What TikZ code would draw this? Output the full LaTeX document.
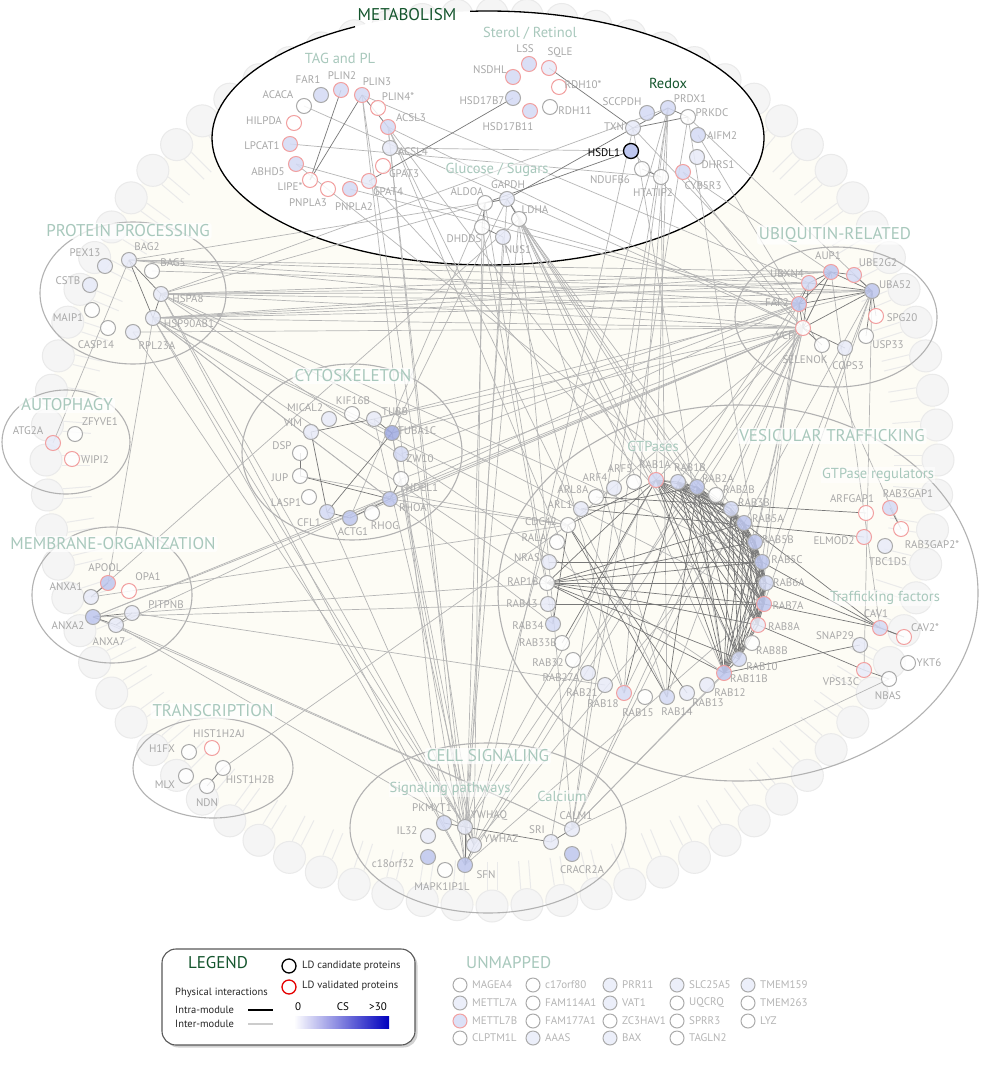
\documentclass[tikz,border=0pt]{standalone}
\usepackage{fontspec}
\setmainfont{PT Sans}
\usetikzlibrary{shadows}
\definecolor{og}{RGB}{170,170,170}
\definecolor{orr}{RGB}{242,160,160}
\definecolor{b1}{RGB}{232,235,249}
\definecolor{b2}{RGB}{212,218,245}
\definecolor{b3}{RGB}{190,199,239}
\definecolor{b4}{RGB}{160,171,226}
\definecolor{labc}{RGB}{168,168,168}
\definecolor{titc}{RGB}{168,200,188}
\definecolor{dgreen}{RGB}{20,85,45}
\definecolor{cream}{RGB}{253,252,245}
\definecolor{ringf}{RGB}{245,245,245}
\definecolor{ringd}{RGB}{234,234,234}
\definecolor{intrac}{RGB}{120,120,120}
\definecolor{interc}{RGB}{182,182,182}
\definecolor{modc}{RGB}{178,178,178}
\definecolor{legblue}{RGB}{0,0,190}
\pgfdeclarelayer{back}\pgfdeclarelayer{edgel}\pgfsetlayers{back,edgel,main}
\tikzset{
 pc/.style={circle, minimum size=15pt, inner sep=0pt, line width=1pt, fill opacity=0.85},
 c0/.style={pc, draw=og, fill=white},
 c1/.style={pc, draw=og, fill=b1},
 c2/.style={pc, draw=og, fill=b2},
 c3/.style={pc, draw=og, fill=b3},
 c4/.style={pc, draw=og, fill=b4},
 v0/.style={pc, draw=orr, fill=white},
 v1/.style={pc, draw=orr, fill=b1},
 v2/.style={pc, draw=orr, fill=b2},
 v3/.style={pc, draw=orr, fill=b3},
 lab/.style={text=labc, font=\fontsize{11}{12}\selectfont, inner sep=0pt},
 tit/.style={text=titc, font=\fontsize{17}{18}\selectfont, fill=white, fill opacity=0.75, text opacity=1, inner sep=2pt, rounded corners=3pt},
 subt/.style={text=titc, font=\fontsize{14.5}{15}\selectfont, fill=white, fill opacity=0.5, text opacity=1, inner sep=1pt},
 intra/.style={draw=intrac, line width=0.7pt},
 inter/.style={draw=interc, line width=0.7pt},
 modell/.style={draw=modc, line width=1.1pt},
 um/.style={circle, minimum size=14pt, inner sep=0pt, line width=1pt, fill opacity=0.8},
 uml/.style={anchor=west, text=labc!85, font=\fontsize{11}{12}\selectfont, inner sep=0pt},
 legt/.style={anchor=west, text=black!85, font=\fontsize{10.5}{11}\selectfont, inner sep=0pt},
}
\newcommand\pn[7]{\node[#4] (#1) at (#2,#3) {}; \node[lab] at (#5,#6) {#7};}
\begin{document}
\begin{tikzpicture}[x=1pt,y=-1pt]
\useasboundingbox (0,0) rectangle (980,1078);
% ---------- background ----------
\begin{pgfonlayer}{back}
\fill[white] (0,0) rectangle (980,1078);
\fill[cream] (492,460) circle[radius=446pt];
\foreach \k in {0,...,79}{
  \pgfmathsetmacro\an{\k*4.5}
  \draw[ringd, line width=1pt] ({492+430*cos(\an)+5*sin(\an)},{460+430*sin(\an)-5*cos(\an)}) -- ({492+402*cos(\an)+5*sin(\an)},{460+402*sin(\an)-5*cos(\an)});
  \draw[ringd, line width=1pt] ({492+430*cos(\an)-5*sin(\an)},{460+430*sin(\an)+5*cos(\an)}) -- ({492+402*cos(\an)-5*sin(\an)},{460+402*sin(\an)+5*cos(\an)});
  \filldraw[fill=ringf, draw=ringd, line width=1pt] ({492+446*cos(\an)},{460+446*sin(\an)}) circle[radius=16pt];
}
\fill[white] (488,138) ellipse[x radius=276pt, y radius=127pt];
\draw[black, line width=1.3pt] plot[domain=266.3:601.2, samples=160] ({488+276*cos(\x)},{138+127*sin(\x)});
\draw[modell] (133,293) ellipse[x radius=93pt, y radius=71pt];
\draw[modell] (66,442) ellipse[x radius=64pt, y radius=52pt];
\draw[modell] (352,452) ellipse[x radius=110pt, y radius=88pt];
\draw[modell] (836,317) ellipse[x radius=101pt, y radius=70pt];
\draw[modell] (738,593) ellipse[x radius=240pt, y radius=188pt];
\draw[modell] (112,595) ellipse[x radius=80pt, y radius=68pt];
\draw[modell] (213,768) ellipse[x radius=80pt, y radius=50pt];
\draw[modell] (488,828) ellipse[x radius=138pt, y radius=85pt];
\end{pgfonlayer}
% ---------- metabolism ----------
\pn{FAR1}{321}{95}{c2}{308}{80}{FAR1}
\pn{PLIN2}{341}{90}{v2}{342}{76}{PLIN2}
\pn{PLIN3}{362}{95}{v2}{377}{82}{PLIN3}
\pn{PLIN4}{378}{108}{v0}{398}{97}{PLIN4*}
\pn{ACACA}{304}{106}{c0}{278}{95}{ACACA}
\pn{HILPDA}{294}{123}{v0}{264}{121}{HILPDA}
\pn{ACSL3}{388}{127}{v2}{411}{118}{ACSL3}
\pn{LPCAT1}{290}{144}{v2}{262}{146}{LPCAT1}
\pn{ACSL4}{390}{148}{c1}{413}{152}{ACSL4}
\pn{ABHD5}{296}{164}{v2}{268}{172}{ABHD5}
\pn{GPAT3}{383}{166}{v0}{404}{174}{GPAT3}
\pn{LIPE}{310}{180}{v0}{290}{187}{LIPE*}
\pn{PNPLA3}{328}{189}{v0}{308}{203}{PNPLA3}
\pn{PNPLA2}{350}{189}{v2}{354}{207}{PNPLA2}
\pn{GPAT4}{369}{181}{v1}{388}{192}{GPAT4}
\pn{LSS}{529}{64}{v2}{525}{49}{LSS}
\pn{SQLE}{549}{68}{v1}{560}{53}{SQLE}
\pn{NSDHL}{513}{77}{v2}{490}{70}{NSDHL}
\pn{RDH10}{559}{87}{v0}{583}{85}{RDH10*}
\pn{HSD17B7}{513}{98}{c2}{482}{101}{HSD17B7}
\pn{RDH11}{550}{107}{c0}{575}{111}{RDH11}
\pn{HSD17B11}{530}{111}{v2}{508}{127}{HSD17B11}
\pn{SCCPDH}{647}{113}{c2}{622}{102}{SCCPDH}
\pn{PRDX1}{668}{108}{c2}{690}{99}{PRDX1}
\pn{PRKDC}{688}{117}{c0}{712}{113}{PRKDC}
\pn{TXN}{633}{128}{c1}{614}{127}{TXN}
\pn{AIFM2}{698}{135}{c2}{722}{136}{AIFM2}
\node[circle, minimum size=15pt, inner sep=0pt, line width=1.3pt, draw=black, fill=b3] (HSDL1) at (631,151) {};
\node[inner sep=0pt, font=\fontsize{11}{12}\selectfont] at (604,153) {HSDL1};
\pn{DHRS1}{697}{157}{c1}{718}{165}{DHRS1}
\pn{NDUFB6}{642}{169}{c0}{610}{180}{NDUFB6}
\pn{HTATIP2}{661}{177}{c0}{653}{193}{HTATIP2}
\pn{CYB5R3}{683}{172}{v2}{703}{186}{CYB5R3}
\pn{ALDOA}{485}{203}{c0}{467}{192}{ALDOA}
\pn{GAPDH}{507}{199}{c1}{508}{185}{GAPDH}
\pn{LDHA}{519}{219}{c0}{535}{210}{LDHA}
\pn{DHDDS}{482}{227}{c0}{464}{239}{DHDDS}
\pn{NUS1}{503}{237}{c1}{518}{250}{NUS1}
% ---------- protein processing / autophagy ----------
\pn{PEX13}{105}{266}{c1}{85}{253}{PEX13}
\pn{BAG2}{129}{260}{c1}{147}{247}{BAG2}
\pn{BAG5}{152}{271}{c0}{173}{263}{BAG5}
\pn{CSTB}{90}{285}{c1}{68}{281}{CSTB}
\pn{HSPA8}{161}{294}{c1}{188}{299}{HSPA8}
\pn{MAIP1}{92}{310}{c0}{68}{318}{MAIP1}
\pn{HSP90AB1}{153}{318}{c1}{189}{324}{HSP90AB1}
\pn{CASP14}{108}{328}{c0}{96}{345}{CASP14}
\pn{RPL23A}{133}{332}{c1}{157}{346}{RPL23A}
\pn{ATG2A}{53}{443}{v1}{28}{431}{ATG2A}
\pn{ZFYVE1}{75}{434}{c0}{100}{422}{ZFYVE1}
\pn{WIPI2}{72}{459}{v0}{95}{460}{WIPI2}
% ---------- cytoskeleton ----------
\pn{MICAL2}{329}{419}{c1}{305}{408}{MICAL2}
\pn{KIF16B}{352}{414}{c0}{353}{401}{KIF16B}
\pn{TUBB}{374}{419}{c1}{395}{412}{TUBB}
\pn{VIM}{311}{432}{c1}{293}{423}{VIM}
\pn{TUBA1C}{392}{433}{c4}{417}{431}{TUBA1C}
\pn{DSP}{300}{453}{c0}{282}{446}{DSP}
\pn{ZW10}{401}{454}{c2}{420}{459}{ZW10}
\pn{JUP}{300}{476}{c0}{280}{478}{JUP}
\pn{NDEL1}{401}{479}{c0}{422}{488}{NDEL1}
\pn{LASP1}{309}{497}{c0}{286}{503}{LASP1}
\pn{RHOA}{390}{499}{c3}{413}{508}{RHOA}
\pn{CFL1}{327}{512}{c2}{309}{523}{CFL1}
\pn{ACTG1}{350}{518}{c3}{353}{532}{ACTG1}
\pn{RHOG}{372}{513}{c0}{385}{526}{RHOG}
% ---------- ubiquitin ----------
\pn{AUP1}{831}{272}{v3}{828}{256}{AUP1}
\pn{UBE2G2}{854}{275}{v2}{878}{263}{UBE2G2}
\pn{UBXN4}{809}{283}{v2}{787}{274}{UBXN4}
\pn{UBA52}{872}{291}{c3}{895}{285}{UBA52}
\pn{FAF2}{799}{304}{v3}{777}{303}{FAF2}
\pn{SPG20}{876}{316}{v0}{902}{318}{SPG20}
\pn{VCP}{803}{328}{v0}{785}{336}{VCP}
\pn{USP33}{866}{336}{c0}{888}{345}{USP33}
\pn{SELENOK}{822}{345}{c0}{805}{360}{SELENOK}
\pn{COPS3}{845}{348}{c1}{848}{366}{COPS3}
% ---------- GTPases ----------
\pn{RAB1A}{656}{480}{v2}{655}{465}{RAB1A}
\pn{RAB1B}{678}{482}{c2}{690}{468}{RAB1B}
\pn{RAB2A}{697}{487}{c3}{718}{479}{RAB2A}
\pn{RAB2B}{716}{495}{c0}{739}{490}{RAB2B}
\pn{RAB3B}{731}{509}{c2}{754}{503}{RAB3B}
\pn{RAB5A}{744}{523}{c3}{768}{519}{RAB5A}
\pn{RAB5B}{755}{542}{c3}{778}{540}{RAB5B}
\pn{RAB5C}{762}{562}{c3}{787}{560}{RAB5C}
\pn{RAB6A}{766}{583}{c2}{789}{583}{RAB6A}
\pn{RAB7A}{764}{604}{v3}{788}{606}{RAB7A}
\pn{RAB8A}{758}{625}{v1}{784}{627}{RAB8A}
\pn{RAB8B}{752}{643}{c0}{772}{651}{RAB8B}
\pn{RAB10}{739}{659}{c2}{762}{667}{RAB10}
\pn{RAB11B}{724}{673}{v3}{749}{679}{RAB11B}
\pn{RAB12}{707}{685}{c1}{730}{693}{RAB12}
\pn{RAB13}{687}{693}{c1}{708}{703}{RAB13}
\pn{RAB14}{667}{697}{c2}{677}{712}{RAB14}
\pn{RAB15}{645}{697}{c0}{638}{713}{RAB15}
\pn{RAB18}{624}{693}{v2}{603}{704}{RAB18}
\pn{RAB21}{605}{685}{c1}{582}{693}{RAB21}
\pn{RAB27A}{588}{673}{c1}{561}{678}{RAB27A}
\pn{RAB32}{573}{660}{c0}{548}{663}{RAB32}
\pn{RAB33B}{562}{643}{c0}{538}{643}{RAB33B}
\pn{RAB34}{553}{624}{c2}{528}{626}{RAB34}
\pn{RAB43}{548}{604}{c1}{522}{604}{RAB43}
\pn{RAP1B}{547}{583}{c0}{523}{582}{RAP1B}
\pn{NRAS}{549}{562}{c1}{527}{558}{NRAS}
\pn{RALA}{557}{542}{c0}{534}{538}{RALA}
\pn{CDC42}{568}{525}{c0}{541}{522}{CDC42}
\pn{ARL1}{581}{509}{c1}{560}{505}{ARL1}
\pn{ARL8A}{596}{497}{c0}{573}{490}{ARL8A}
\pn{ARF4}{614}{488}{c1}{595}{478}{ARF4}
\pn{ARF5}{634}{482}{c0}{620}{469}{ARF5}
% ---------- vesicular ----------
\pn{ARFGAP1}{866}{513}{v0}{852}{499}{ARFGAP1}
\pn{RAB3GAP1}{890}{508}{v2}{908}{494}{RAB3GAP1}
\pn{RAB3GAP2}{901}{529}{v0}{932}{545}{RAB3GAP2*}
\pn{ELMOD2}{864}{537}{v1}{834}{541}{ELMOD2}
\pn{TBC1D5}{885}{546}{c1}{888}{562}{TBC1D5}
\pn{CAV1}{880}{628}{v2}{876}{614}{CAV1}
\pn{CAV2}{904}{637}{v0}{925}{628}{CAV2*}
\pn{SNAP29}{860}{645}{c1}{835}{636}{SNAP29}
\pn{YKT6}{908}{663}{c0}{929}{663}{YKT6}
\pn{VPS13C}{864}{670}{v1}{841}{682}{VPS13C}
\pn{NBAS}{889}{679}{c0}{888}{696}{NBAS}
% ---------- membrane / transcription ----------
\pn{APOOL}{108}{583}{v3}{105}{568}{APOOL}
\pn{OPA1}{129}{591}{v0}{148}{577}{OPA1}
\pn{ANXA1}{91}{597}{c1}{66}{587}{ANXA1}
\pn{PITPNB}{132}{613}{c1}{166}{605}{PITPNB}
\pn{ANXA2}{93}{617}{c3}{68}{626}{ANXA2}
\pn{ANXA7}{116}{625}{c1}{109}{642}{ANXA7}
\pn{HISTAJ}{212}{748}{v0}{219}{734}{HIST1H2AJ}
\pn{H1FX}{189}{752}{c0}{162}{749}{H1FX}
\pn{HISTB}{223}{768}{c0}{250}{780}{HIST1H2B}
\pn{MLX}{186}{776}{c0}{165}{785}{MLX}
\pn{NDN}{207}{786}{c0}{207}{803}{NDN}
% ---------- cell signaling ----------
\pn{PKMYT1}{444}{823}{c2}{432}{808}{PKMYT1}
\pn{YWHAQ}{465}{827}{c1}{489}{816}{YWHAQ}
\pn{IL32}{428}{836}{c1}{407}{831}{IL32}
\pn{YWHAZ}{474}{845}{c1}{501}{839}{YWHAZ}
\pn{C18}{428}{857}{c3}{393}{864}{c18orf32}
\pn{SFN}{465}{865}{c3}{486}{875}{SFN}
\pn{MAPK}{445}{870}{c0}{442}{887}{MAPK1IP1L}
\pn{SRI}{551}{842}{c1}{537}{830}{SRI}
\pn{CALM1}{572}{829}{c1}{576}{816}{CALM1}
\pn{CRACR2A}{572}{854}{c3}{582}{870}{CRACR2A}
% ---------- edges ----------
\begin{pgfonlayer}{edgel}
\foreach \a/\b in {ATG2A/BAG2, HSPA8/UBA52, HSPA8/FAF2, HSPA8/VCP, HSPA8/UBXN4, HSP90AB1/UBA52, HSP90AB1/VCP, HSP90AB1/FAF2, BAG2/UBXN4, BAG2/AUP1, BAG2/FAF2,
 HSPA8/AUP1, HSP90AB1/UBXN4, BAG2/VCP, HSP90AB1/AUP1, BAG5/UBA52, RPL23A/VCP,
 HSPA8/YWHAQ, HSP90AB1/YWHAQ, HSPA8/SFN, HSP90AB1/SFN, HSP90AB1/CDC42, HSP90AB1/RAP1B, HSPA8/RAB7A, HSPA8/RAB11B, RPL23A/YWHAQ, HSPA8/PRDX1, ALDOA/HSPA8, GAPDH/BAG2, HSP90AB1/RHOA, HSP90AB1/TUBA1C, HSP90AB1/RAB34, HSPA8/RAB5C,
 PLIN3/PKMYT1, PLIN3/YWHAZ, ACSL3/YWHAQ, ACSL3/SFN, ACSL3/RAB18, ACSL3/RAB14, ACSL3/VCP, PLIN3/UBXN4, ACSL4/HSDL1, LPCAT1/HTATIP2, ABHD5/FAF2, ACACA/VCP, PNPLA2/FAF2, ACSL3/RAB1A, GPAT4/RAB7A, ABHD5/RAB3B,
 PRKDC/UBA52, CYB5R3/AUP1, PRDX1/YWHAQ, PRDX1/SRI, PRDX1/RAB18, PRDX1/RAB1A, PRDX1/CALM1, TXN/YWHAZ, PRKDC/CALM1, LDHA/RAB14, LDHA/RAB11B, LDHA/YWHAQ, GAPDH/TUBA1C, ALDOA/ACTG1, GAPDH/YWHAQ, ALDOA/SFN, NUS1/RAB18, DHDDS/YWHAZ, HSDL1/VCP, TXN/FAF2,
 LDHA/RAB1A, LDHA/RAB2A, LDHA/RAB5A, LDHA/CALM1, LDHA/RAB10, LDHA/RAB7A, DHDDS/RAB34, GAPDH/RAB6A, ALDOA/RAP1B, NUS1/SFN, HTATIP2/RAB14, CYB5R3/VCP, PRKDC/RAB5B, TXN/RAB11B, AIFM2/FAF2,
 TUBB/VCP, TUBA1C/VCP, RHOA/VCP, JUP/CDC42, TUBA1C/YWHAQ, TUBA1C/SFN, CFL1/YWHAZ, NDEL1/YWHAZ, RHOA/CDC42, TUBB/UBA52, TUBA1C/FAF2, NDEL1/VCP, ZW10/FAF2, ACTG1/VCP, TUBB/YWHAZ,
 ANXA1/LDHA, ANXA1/CDC42, ANXA2/RAB43, ANXA2/RHOA, ANXA2/VCP, PITPNB/RAP1B, PITPNB/RAB21, ANXA7/YWHAQ, ANXA7/CALM1, ANXA2/CALM1, ANXA7/FAF2, APOOL/HSP90AB1,
 HISTB/CDC42,
 CALM1/RAB11B, CALM1/RAB10, CALM1/VCP, CALM1/NBAS, SFN/VCP, YWHAQ/VCP, YWHAZ/FAF2, YWHAQ/RAB1A, SFN/RAB7A, YWHAZ/RAB5A, CALM1/RAB3B,
 AUP1/CAV1, UBA52/VPS13C, FAF2/RAB3GAP2, VCP/RAB18, VCP/RAB1A, VCP/RAB14, VCP/RAB11B, UBA52/RAB5A, UBA52/RAB7A, FAF2/RAB5C, VCP/CDC42, UBA52/RAB11B, UBXN4/RAB1B, VCP/RAB5B, FAF2/RAB8A}
 \draw[inter] (\a.center) -- (\b.center);
\foreach \a/\b in {PLIN2/LIPE, PLIN3/LIPE, PLIN3/ACSL3, GPAT4/HSD17B7, TXN/PRDX1, PRDX1/PRKDC, TXN/PRKDC, SQLE/TXN, NDUFB6/HTATIP2, GAPDH/ALDOA, GAPDH/LDHA, GAPDH/TXN, ALDOA/HSDL1, DHDDS/NUS1, ALDOA/DHDDS,
 BAG2/HSPA8, BAG2/HSP90AB1, HSPA8/HSP90AB1,
 VIM/TUBB, VIM/CFL1, DSP/JUP, CFL1/ACTG1, ACTG1/RHOA, TUBB/TUBA1C, CFL1/TUBA1C, RHOA/NDEL1, JUP/RHOA,
 AUP1/UBXN4, AUP1/FAF2, AUP1/UBE2G2, UBXN4/FAF2, UBXN4/UBA52, FAF2/UBA52, FAF2/VCP, UBXN4/VCP, AUP1/VCP, UBA52/VCP, UBA52/SPG20, UBA52/USP33, VCP/SELENOK, VCP/COPS3, UBE2G2/UBA52, AUP1/UBA52,
 RAP1B/RAB1A, RAP1B/RAB5A, RAP1B/RAB5B, RAP1B/RAB5C, RAP1B/RAB6A, RAP1B/RAB7A, RAP1B/RAB8A, RAP1B/RAB10, RAP1B/RAB11B, CDC42/RAB14, CDC42/RAB13, CDC42/RAB34, CDC42/RAB1A, RAB18/RAB1B, RAB33B/RAB1A, NRAS/RAB5C, RAB14/RAB2A, RAB43/RAB7A, ARL1/RAB2A,
 RAB3GAP1/RAB3GAP2, CAV1/CAV2, RAB5A/CAV1, RAB5C/CAV1, RAB7A/CAV1, RAB6A/CAV2, RAB11B/SNAP29, RAB8A/VPS13C, VPS13C/NBAS, ARFGAP1/ARL8A, ELMOD2/ARL1,
 ANXA2/PITPNB, ANXA7/PITPNB, ANXA1/APOOL, ANXA2/ANXA7,
 HISTB/NDN,
 YWHAQ/YWHAZ, YWHAQ/SFN, YWHAZ/SFN, PKMYT1/YWHAQ, YWHAQ/SRI, SRI/CALM1}
 \draw[intra] (\a.center) -- (\b.center);
\foreach \a [count=\i] in {RAB1A,RAB1B,RAB2A,RAB3B,RAB5A,RAB5B,RAB5C,RAB6A,RAB7A,RAB8A,RAB10,RAB11B}{
  \foreach \b [count=\j] in {RAB1A,RAB1B,RAB2A,RAB3B,RAB5A,RAB5B,RAB5C,RAB6A,RAB7A,RAB8A,RAB10,RAB11B}{
    \ifnum\j>\i \draw[intra] (\a.center) -- (\b.center); \fi
  }
}
\end{pgfonlayer}
% ---------- titles ----------
\node[text=dgreen, font=\fontsize{17}{18}\selectfont, inner sep=1pt] at (407,15) {METABOLISM};
\node[subt] at (340,58) {TAG and PL};
\node[subt] at (530,33) {Sterol / Retinol};
\node[text=dgreen, font=\fontsize{14.5}{15}\selectfont] at (668,83) {Redox};
\node[subt] at (497,170) {Glucose / Sugars};
\node[tit] at (128,231) {PROTEIN PROCESSING};
\node[tit] at (67,405) {AUTOPHAGY};
\node[tit] at (353,376) {CYTOSKELETON};
\node[tit] at (835,235) {UBIQUITIN-RELATED};
\node[tit] at (832,436) {VESICULAR TRAFFICKING};
\node[subt] at (653,446) {GTPases};
\node[subt] at (878,475) {GTPase regulators};
\node[subt] at (885,598) {Trafficking factors};
\node[tit] at (113,544) {MEMBRANE-ORGANIZATION};
\node[tit] at (213,711) {TRANSCRIPTION};
\node[tit] at (488,756) {CELL SIGNALING};
\node[subt] at (450,789) {Signaling pathways};
\node[subt] at (562,796) {Calcium};
% ---------- legend ----------
\node[draw=black!65, line width=1.1pt, rounded corners=14pt, fill=white, drop shadow={opacity=0.35}, minimum width=253pt, minimum height=96pt] (legend) at (288.5,997) {};
\node[text=dgreen, font=\fontsize{17}{18}\selectfont] at (218,963) {LEGEND};
\node[circle, draw=black, line width=1.3pt, minimum size=14pt, inner sep=0pt] (lcand) at (289,966) {};
\node[legt] at (302,966) {LD candidate proteins};
\node[circle, draw=red!90!black, line width=1.3pt, minimum size=14pt, inner sep=0pt] (lval) at (289,987) {};
\node[legt] at (302,986) {LD validated proteins};
\node[legt] at (175,993) {Physical interactions};
\node[legt] at (175,1010) {Intra-module};
\node[legt] at (175,1024) {Inter-module};
\coordinate (ia) at (248,1010); \coordinate (ib) at (273,1010);
\coordinate (ja) at (248,1024); \coordinate (jb) at (273,1024);
\draw[black, line width=1.2pt] (ia) -- (ib);
\draw[black!20, line width=1.2pt] (ja) -- (jb);
\node[font=\fontsize{11}{12}\selectfont, inner sep=0pt] at (298,1007) {0};
\node[font=\fontsize{11}{12}\selectfont, inner sep=0pt] at (343,1007) {CS};
\node[font=\fontsize{11}{12}\selectfont, inner sep=0pt] at (378,1007) {>30};
\shade[left color=white, right color=legblue] (294,1016) rectangle (389,1028);
% ---------- unmapped ----------
\node[text=titc, font=\fontsize{17}{18}\selectfont, anchor=west, inner sep=0pt] at (466,963) {UNMAPPED};
\foreach \nm/\xx/\yy/\ff/\dd in {MAGEA4/460/985/white/og, METTL7A/460/1003/b1/og, METTL7B/460/1021/b2/orr, CLPTM1L/460/1038/white/og,
 c17orf80/533/985/white/og, FAM114A1/533/1003/white/og, FAM177A1/533/1021/white/og, AAAS/533/1038/b1/og,
 PRR11/610/985/b1/og, VAT1/610/1003/b1/og, ZC3HAV1/610/1021/white/og, BAX/610/1038/b1/og,
 SLC25A5/677/985/b1/og, UQCRQ/677/1003/white/og, SPRR3/677/1021/white/og, TAGLN2/677/1038/white/og,
 TMEM159/748/985/b1/og, TMEM263/748/1003/white/og, LYZ/748/1021/white/og}{
  \node[um, fill=\ff, draw=\dd] (u\nm) at (\xx,\yy) {};
  \node[uml] at (\xx+12,\yy) {\nm};
}
\end{tikzpicture}
\end{document}
